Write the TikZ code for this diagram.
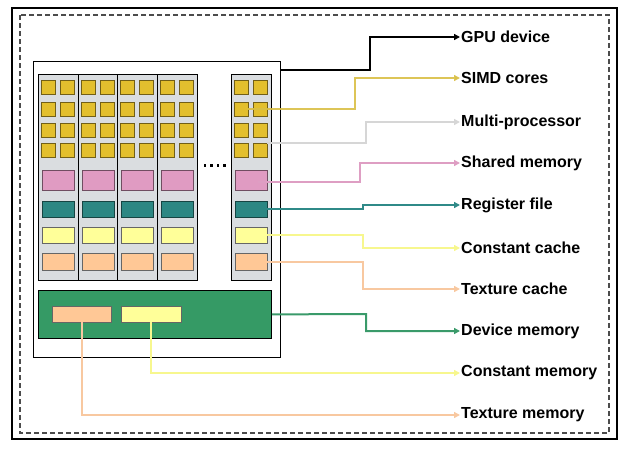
\documentclass[tikz,border=0pt]{standalone}
\usepackage{fontspec}
\setmainfont{Liberation Sans}
\usetikzlibrary{arrows.meta,calc}
\definecolor{gold}{HTML}{E3BF2E}
\definecolor{goldline}{HTML}{D9BF45}
\definecolor{colgray}{HTML}{DADDE0}
\definecolor{pinkbox}{HTML}{E09BC2}
\definecolor{tealbox}{HTML}{2C8783}
\definecolor{lyellow}{HTML}{FFFF99}
\definecolor{lyline}{HTML}{F7F78E}
\definecolor{orangebox}{HTML}{FFC896}
\definecolor{orline}{HTML}{F8C8A0}
\definecolor{greenbox}{HTML}{359A65}
\definecolor{greenline}{HTML}{3A9A6A}
\definecolor{mpline}{HTML}{D6D6D6}
\definecolor{pinkline}{HTML}{DE9EC3}
\definecolor{tealline}{HTML}{2F8A88}
\begin{document}
\begin{tikzpicture}[x=1pt,y=-1pt,
  box/.style={draw=#1!50!black, line width=0.6pt, inner sep=0pt, outer sep=0pt},
  sq/.style={box=gold, fill=gold, minimum width=13.5pt, minimum height=14pt},
  pbox/.style={box=pinkbox, fill=pinkbox, minimum width=32pt, minimum height=20pt},
  tbox/.style={box=tealbox, fill=tealbox, minimum width=32pt, minimum height=16pt},
  ybox/.style={draw=black!60, line width=0.6pt, fill=lyellow, inner sep=0pt, minimum width=32pt, minimum height=16pt},
  obox/.style={draw=black!60, line width=0.6pt, fill=orangebox, inner sep=0pt, minimum width=32pt, minimum height=17pt},
  colbox/.style={draw=black, line width=0.8pt, fill=colgray, inner sep=0pt, minimum width=40pt, minimum height=206pt},
  lbl/.style={anchor=west, inner sep=1pt, font=\bfseries\fontsize{16}{18}\selectfont},
  conn/.style={line width=2pt, -{Triangle[length=6pt,width=6pt]}, color=#1}
]
\useasboundingbox (0,0) rectangle (627,448);
% frames
\draw[line width=1.6pt] (12,8) rectangle (617,439);
\draw[black!70, line width=1.2pt, dash pattern=on 5pt off 3pt] (20,15) rectangle (609,433);
% GPU box
\node[draw=black, line width=1pt, fill=white, minimum width=247pt, minimum height=296pt, inner sep=0pt, anchor=north west] (gpu) at (33,61) {};
% columns
\foreach \i/\x in {1/38,2/78,3/117,4/157,5/231}{
  \node[colbox, anchor=north west, minimum width=40pt] (col\i) at (\x,74) {};
  \foreach \r/\y in {1/87,2/109,3/130,4/150}{
    \node[sq] (s\i-\r-1) at (\x+10.5,\y) {};
    \node[sq] (s\i-\r-2) at (\x+29.5,\y) {};
  }
  \node[pbox] (p\i) at (\x+20,180) {};
  \node[tbox] (t\i) at (\x+20,209) {};
  \node[ybox] (y\i) at (\x+20,235) {};
  \node[obox] (o\i) at (\x+20,261.5) {};
}
% dots
\foreach \d in {0,1,2,3}{
  \fill (203.5+\d*6.6,164.3) rectangle ++(2.4,2.4);
}
% device memory
\node[draw=black, line width=0.8pt, fill=greenbox, minimum width=233pt, minimum height=48pt, inner sep=0pt, anchor=north west] (dev) at (38,290) {};
\node[obox, minimum width=59pt, minimum height=16pt] (tm) at (81.5,314) {};
\node[ybox, minimum width=60pt, minimum height=16pt] (cm) at (151,314) {};
% labels
\node[lbl] (lgpu) at (460,37) {GPU device};
\node[lbl] (lsimd) at (460,78) {SIMD cores};
\node[lbl] (lmp) at (460,122) {Multi-processor};
\node[lbl] (lsh) at (460,163) {Shared memory};
\node[lbl] (lreg) at (460,205) {Register file};
\node[lbl] (lcc) at (460,248) {Constant cache};
\node[lbl] (ltc) at (460,289) {Texture cache};
\node[lbl] (ldm) at (460,331) {Device memory};
\node[lbl] (lcm) at (460,373) {Constant memory};
\node[lbl] (ltm) at (460,415) {Texture memory};
% connector starts
\coordinate (gpuout) at ($(gpu.north east)+(0,9)$);
\coordinate (simdin) at ($(s5-2-1.center)+(5,0)$);
\coordinate (mpin) at (267,143);
\coordinate (shin) at ($(p5.center)+(7,2)$);
% connectors
\draw[conn=black] (gpuout) -- (370,70) |- (lgpu.west);
\draw[conn=goldline, opacity=0.9] (simdin) -- (355,109) |- (lsimd.west);
\draw[conn=mpline] (mpin) -- (366,143) |- (lmp.west);
\draw[conn=pinkline] (shin) -- (360,182) |- (lsh.west);
\draw[conn=tealline] (t5.east) -- (363,209) |- (lreg.west);
\draw[conn=lyline] (y5.east) -- (363,235) |- (lcc.west);
\draw[conn=orline] (o5.east) -- (363,261.5) |- (ltc.west);
\draw[conn=greenline] (dev.east) -- (366,314) |- (ldm.west);
\draw[conn=lyline] (cm.south) |- (lcm.west);
\draw[conn=orline] (tm.south) |- (ltm.west);
\end{tikzpicture}
\end{document}
